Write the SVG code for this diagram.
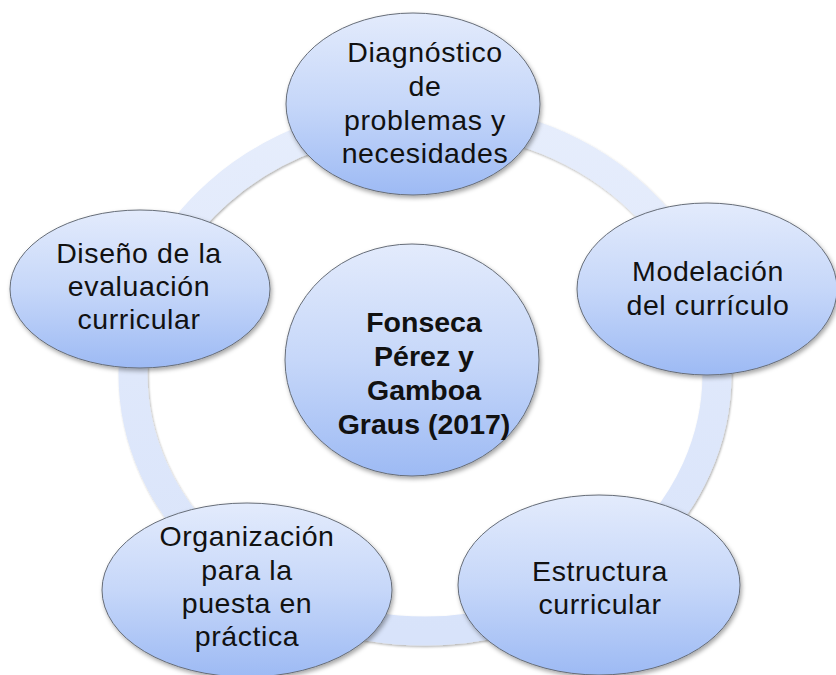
<svg xmlns="http://www.w3.org/2000/svg" width="836" height="675" viewBox="0 0 836 675">
<defs>
<linearGradient id="nodeGrad" x1="0" y1="0" x2="0" y2="1">
<stop offset="0" stop-color="#e3ebfc"/>
<stop offset="0.5" stop-color="#c6d7f9"/>
<stop offset="1" stop-color="#9dbaf4"/>
</linearGradient>
<linearGradient id="ringGrad" x1="0" y1="0" x2="0" y2="1">
<stop offset="0" stop-color="#e6edfc"/>
<stop offset="1" stop-color="#d8e3fa"/>
</linearGradient>
<filter id="shadow" x="-10%" y="-10%" width="125%" height="130%">
<feDropShadow dx="1.5" dy="2.5" stdDeviation="2" flood-color="#000" flood-opacity="0.35"/>
</filter>
<filter id="ringShadow" x="-10%" y="-10%" width="120%" height="120%">
<feDropShadow dx="1" dy="1.5" stdDeviation="1.2" flood-color="#000" flood-opacity="0.3"/>
</filter>
</defs>
<style>
.node{fill:url(#nodeGrad);stroke:#666d78;stroke-width:1;filter:url(#shadow);}
.lbl{font-family:"Liberation Sans",Arial,sans-serif;font-size:28.5px;letter-spacing:0.6px;fill:#111;text-anchor:middle;}
.bold{font-weight:bold;letter-spacing:0;}
</style>
<rect width="836" height="675" fill="#ffffff"/>
<g id="connectors">
<ellipse cx="425" cy="374" rx="292" ry="257" fill="none" stroke="url(#ringGrad)" stroke-width="29" filter="url(#ringShadow)"/>
</g>
<g id="center">
<ellipse class="node" cx="412" cy="360" rx="127" ry="116"/>
<text class="lbl bold" x="424" y="332">Fonseca</text>
<text class="lbl bold" x="424" y="366">Pérez y</text>
<text class="lbl bold" x="424" y="400">Gamboa</text>
<text class="lbl bold" x="424" y="434">Graus (2017)</text>
</g>
<g id="diagnostico">
<ellipse class="node" cx="413" cy="104" rx="127" ry="91"/>
<text class="lbl" x="425" y="62">Diagnóstico</text>
<text class="lbl" x="425" y="96">de</text>
<text class="lbl" x="425" y="130">problemas y</text>
<text class="lbl" x="425" y="163">necesidades</text>
</g>
<g id="modelacion">
<ellipse class="node" cx="707" cy="289" rx="130" ry="86"/>
<text class="lbl" x="708" y="281">Modelación</text>
<text class="lbl" x="708" y="315">del currículo</text>
</g>
<g id="estructura">
<ellipse class="node" cx="599" cy="585" rx="141" ry="90"/>
<text class="lbl" x="600" y="581">Estructura</text>
<text class="lbl" x="600" y="614">curricular</text>
</g>
<g id="organizacion">
<ellipse class="node" cx="247" cy="590" rx="145" ry="87"/>
<text class="lbl" x="247" y="546">Organización</text>
<text class="lbl" x="247" y="580">para la</text>
<text class="lbl" x="247" y="613">puesta en</text>
<text class="lbl" x="247" y="646">práctica</text>
</g>
<g id="diseno">
<ellipse class="node" cx="140" cy="289" rx="130" ry="79"/>
<text class="lbl" x="139" y="263">Diseño de la</text>
<text class="lbl" x="139" y="296">evaluación</text>
<text class="lbl" x="139" y="329">curricular</text>
</g>
</svg>
